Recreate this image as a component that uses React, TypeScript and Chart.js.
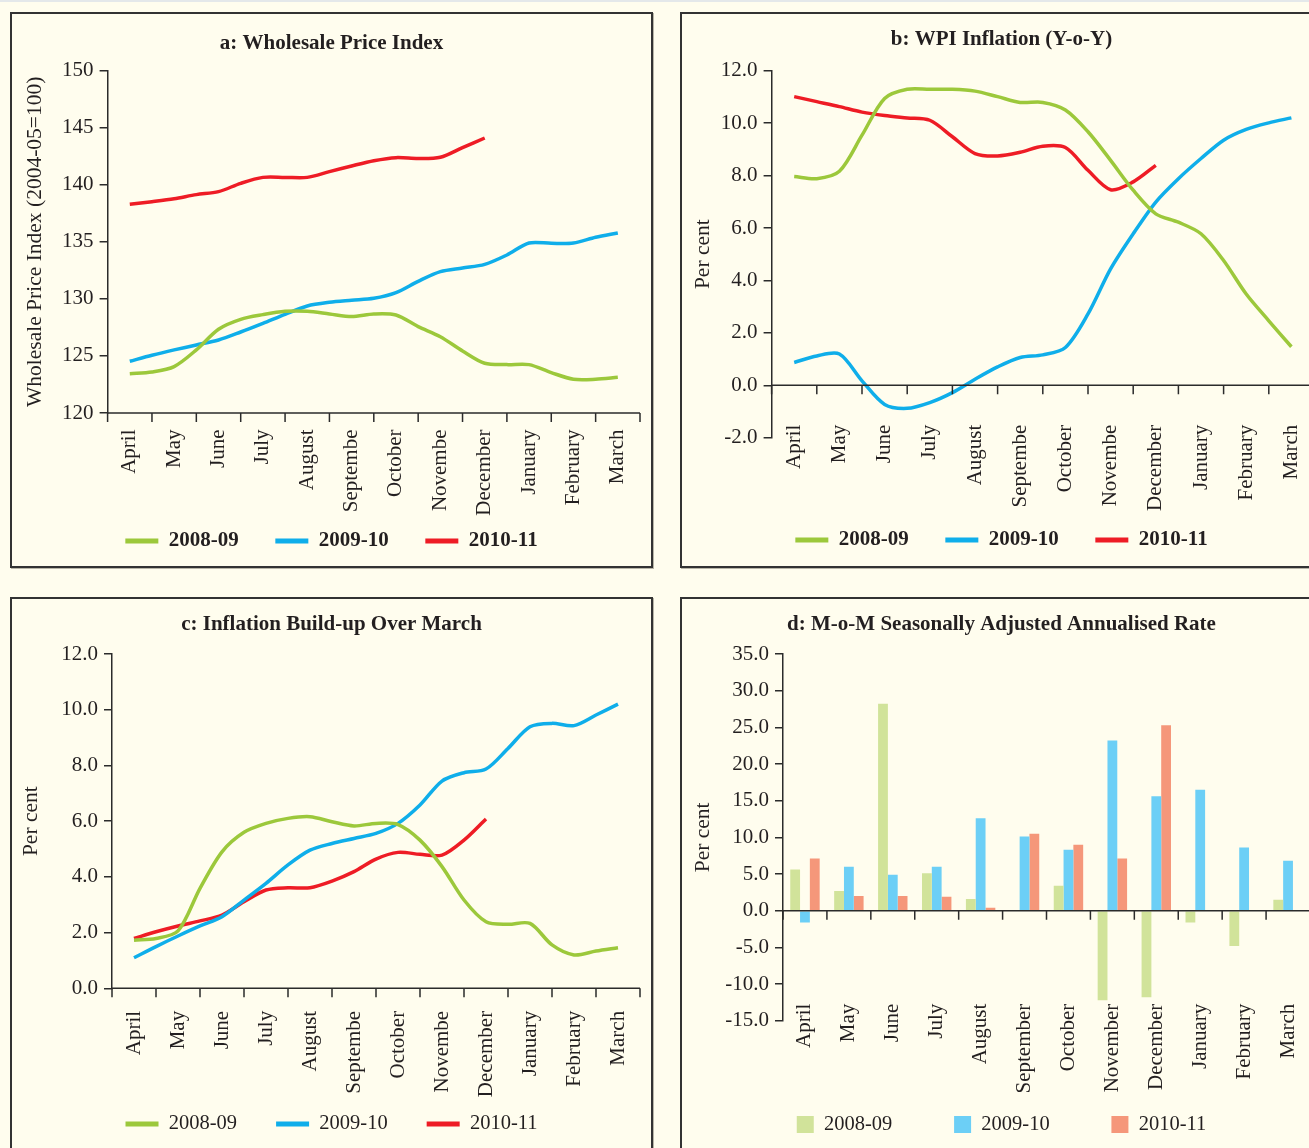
import React, { useEffect, useRef } from 'react';
import { Chart, registerables } from 'chart.js';

Chart.register(...registerables);

const FONT = "'Liberation Serif', 'Times New Roman', serif";
const TEXT = '#231f20';
const AXIS = '#2b2b2b';
const BG = '#fffdee';

// ---------- data ----------
const monthsShort = ['April', 'May', 'June', 'July', 'August', 'Septembe', 'October', 'Novembe', 'December', 'January', 'February', 'March'];
const monthsFull = ['April', 'May', 'June', 'July', 'August', 'September', 'October', 'November', 'December', 'January', 'February', 'March'];
const seriesNames = ['2008-09', '2009-10', '2010-11'];

// half-monthly readings, starting at the middle of April (step = 0.5 month)
const wpi0809 = [123.45, 123.6, 124.07, 125.53, 127.34, 128.21, 128.62, 128.91, 128.91, 128.68, 128.45, 128.68, 128.59, 127.57, 126.69, 125.44, 124.36, 124.24, 124.24, 123.54, 122.96, 122.96, 123.13];
const wpi0910 = [124.53, 125.06, 125.53, 125.96, 126.4, 127.1, 127.86, 128.65, 129.38, 129.7, 129.88, 130.05, 130.55, 131.54, 132.39, 132.71, 133.03, 133.85, 134.9, 134.87, 134.9, 135.4, 135.78];
const wpi1011 = [138.29, 138.52, 138.78, 139.14, 139.4, 140.13, 140.65, 140.65, 140.65, 141.15, 141.65, 142.11, 142.38, 142.3, 142.41, 143.25, 144.1];

const inf0809 = [7.96, 7.88, 8.16, 9.54, 10.94, 11.29, 11.29, 11.29, 11.22, 11.01, 10.79, 10.79, 10.5, 9.67, 8.58, 7.44, 6.54, 6.22, 5.78, 4.76, 3.48, 2.46, 1.47];
const inf0910 = [0.87, 1.12, 1.19, 0.17, -0.73, -0.88, -0.66, -0.28, 0.23, 0.7, 1.06, 1.16, 1.44, 2.72, 4.44, 5.78, 6.99, 7.88, 8.65, 9.35, 9.76, 10.01, 10.2];
const inf1011 = [11.01, 10.82, 10.63, 10.42, 10.29, 10.2, 10.11, 9.48, 8.84, 8.75, 8.89, 9.12, 9.07, 8.2, 7.46, 7.76, 8.39];

const bu0809 = [1.73, 1.79, 2.06, 3.59, 4.9, 5.6, 5.92, 6.1, 6.16, 5.98, 5.83, 5.92, 5.88, 5.32, 4.37, 3.17, 2.39, 2.3, 2.33, 1.56, 1.2, 1.34, 1.46];
const bu0910 = [1.1, 1.5, 1.88, 2.24, 2.57, 3.17, 3.77, 4.43, 4.96, 5.2, 5.38, 5.56, 5.92, 6.58, 7.44, 7.74, 7.87, 8.61, 9.39, 9.51, 9.43, 9.81, 10.2];
const bu1011 = [1.79, 2.03, 2.24, 2.42, 2.63, 3.11, 3.53, 3.61, 3.61, 3.85, 4.19, 4.64, 4.88, 4.81, 4.78, 5.32, 6.08];

// monthly values
const mom0809 = [5.6, 2.7, 28.2, 5.1, 1.6, null, 3.4, -12.2, -11.8, -1.6, -4.8, 1.5];
const mom0910 = [-1.6, 6.0, 4.9, 6.0, 12.6, 10.1, 8.3, 23.2, 15.6, 16.5, 8.6, 6.8];
const mom1011 = [7.1, 2.0, 2.0, 1.9, 0.4, 10.5, 9.0, 7.1, 25.3, null, null, null];

// ---------- styles ----------
const lineColors = ['#9cc83b', '#0faeea', '#ee1c25'];
const barColors = ['#d1e39a', '#6ccff6', '#f5977a'];

const CW = 639;
const CH = 552;

const baseAxisPlugin = {
  id: 'baseAxis',
  afterDatasetsDraw(chart: any, _args: any, opts: any) {
    const { ctx, chartArea } = chart;
    const y = chart.scales.y.getPixelForValue(opts.value);
    ctx.save();
    ctx.strokeStyle = AXIS;
    ctx.lineWidth = 1.5;
    ctx.beginPath();
    ctx.moveTo(chartArea.left, y);
    ctx.lineTo(chartArea.right, y);
    const n = opts.bands;
    for (let i = 0; i <= n; i++) {
      const x = chartArea.left + ((chartArea.right - chartArea.left) * i) / n;
      ctx.moveTo(x, y);
      ctx.lineTo(x, y + opts.tick);
    }
    ctx.stroke();
    ctx.restore();
  },
};

type Layout = {
  title: string;
  titlePadTop: number;
  titlePadBottom: number;
  yTitle: string;
  yTitlePad: number;
  yWidth: number;
  rightWidth: number;
  yMin: number;
  yMax: number;
  yStep: number;
  decimals: number;
  xHeight: number;
  labelAt: number;
  labelPad: number;
  padBottom: number;
  legendPad: number;
  legendBold: boolean;
  legendSize: number;
  baseline: number;
};

const TICK_SIZE = 21;

function spacerAxis(height: number) {
  return {
    type: 'linear',
    position: 'bottom',
    display: true,
    grid: { display: false, drawTicks: false },
    border: { display: false },
    ticks: { display: false },
    afterFit: (s: any) => {
      s.height = height;
    },
  };
}

function commonOptions(L: Layout, labels: string[], legendBox: { w: number; h: number }) {
  const tickFont = { family: FONT, size: TICK_SIZE };
  return {
    responsive: false,
    animation: false,
    events: [],
    layout: { padding: { left: 0, right: 0, top: 0, bottom: L.padBottom } },
    plugins: {
      title: {
        display: true,
        text: L.title,
        color: TEXT,
        font: { family: FONT, size: 21, weight: 'bold' },
        padding: { top: L.titlePadTop, bottom: L.titlePadBottom },
      },
      legend: {
        position: 'bottom',
        labels: {
          boxWidth: legendBox.w,
          boxHeight: legendBox.h,
          padding: L.legendPad,
          color: TEXT,
          font: { family: FONT, size: L.legendSize, weight: L.legendBold ? 'bold' : 'normal' },
          generateLabels: (chart: any) =>
            chart.data.datasets.map((ds: any, i: number) => ({
              text: ds.label,
              fillStyle: ds.legendColor,
              strokeStyle: ds.legendColor,
              lineWidth: 0,
              hidden: false,
              datasetIndex: i,
              fontColor: TEXT,
            })),
        },
      },
      tooltip: { enabled: false },
      baseAxis: { value: L.baseline, bands: 12, tick: 9 },
    },
    scales: {
      xc: {
        type: 'category',
        axis: 'x',
        labels,
        offset: true,
        position: { y: L.labelAt },
        grid: { display: false, drawTicks: false, offset: true },
        border: { display: false },
        ticks: { autoSkip: false, maxRotation: 90, minRotation: 90, padding: L.labelPad, color: TEXT, font: tickFont },
      },
      y: {
        type: 'linear',
        position: 'left',
        min: L.yMin,
        max: L.yMax,
        ticks: {
          stepSize: L.yStep,
          padding: 6,
          color: TEXT,
          font: tickFont,
          callback: (v: any) => Number(v).toFixed(L.decimals),
        },
        grid: { drawOnChartArea: false, drawTicks: true, tickLength: 8, color: AXIS, lineWidth: 1.5 },
        border: { display: true, color: AXIS, width: 1.5 },
        title: {
          display: true,
          text: L.yTitle,
          color: TEXT,
          font: { family: FONT, size: 21.5 },
          padding: { top: L.yTitlePad, bottom: 0 },
        },
        afterFit: (s: any) => {
          s.width = L.yWidth;
        },
      },
      yr: {
        type: 'linear',
        position: 'right',
        grid: { display: false, drawTicks: false },
        border: { display: false },
        ticks: { display: false },
        afterFit: (s: any) => {
          s.width = L.rightWidth;
        },
      },
    },
  };
}

function lineConfig(L: Layout, labels: string[], series: number[][]) {
  const opts: any = commonOptions(L, labels, { w: 33, h: 5 });
  opts.scales.x = { ...spacerAxis(L.xHeight), min: -0.5, max: 11.5, bounds: 'data' };
  return {
    type: 'line',
    data: {
      datasets: series.map((vals, i) => ({
        label: seriesNames[i],
        data: vals.map((v, k) => ({ x: k * 0.5, y: v })),
        borderColor: lineColors[i],
        backgroundColor: lineColors[i],
        legendColor: lineColors[i],
        borderWidth: 3.5,
        pointRadius: 0,
        tension: 0.3,
        xAxisID: 'x',
        yAxisID: 'y',
      })),
    },
    options: opts,
    plugins: [baseAxisPlugin],
  };
}

function barConfig(L: Layout, labels: string[], series: (number | null)[][]) {
  const opts: any = commonOptions(L, labels, { w: 17, h: 17 });
  opts.scales.xs = spacerAxis(L.xHeight);
  return {
    type: 'bar',
    data: {
      labels,
      datasets: series.map((vals, i) => ({
        label: seriesNames[i],
        data: vals,
        backgroundColor: barColors[i],
        legendColor: barColors[i],
        borderWidth: 0,
        categoryPercentage: 0.67,
        barPercentage: 1.0,
        xAxisID: 'xc',
        yAxisID: 'y',
      })),
    },
    options: opts,
    plugins: [baseAxisPlugin],
  };
}

const layoutA: Layout = {
  title: 'a: Wholesale Price Index', titlePadTop: 17.4, titlePadBottom: 14.1,
  yTitle: 'Wholesale Price Index (2004-05=100)', yTitlePad: 10.1, yWidth: 95.6, rightWidth: 11,
  yMin: 120, yMax: 150, yStep: 5, decimals: 0,
  xHeight: 81, labelAt: 117.68, labelPad: -10, padBottom: 4.5, legendPad: 36.5, legendBold: true, legendSize: 21, baseline: 120,
};
const layoutB: Layout = {
  title: 'b: WPI Inflation (Y-o-Y)', titlePadTop: 12.9, titlePadBottom: 18.6,
  yTitle: 'Per cent', yTitlePad: 8.6, yWidth: 89.6, rightWidth: 7,
  yMin: -2, yMax: 12, yStep: 2, decimals: 1,
  xHeight: 55.3, labelAt: -2, labelPad: -13, padBottom: 5.5, legendPad: 36.5, legendBold: true, legendSize: 21, baseline: 0,
};
const layoutC: Layout = {
  title: 'c: Inflation Build-up Over March', titlePadTop: 13.4, titlePadBottom: 16.4,
  yTitle: 'Per cent', yTitlePad: 6.6, yWidth: 100, rightWidth: 11,
  yMin: 0, yMax: 12, yStep: 2, decimals: 1,
  xHeight: 86.4, labelAt: -1.167, labelPad: -10, padBottom: 6.75, legendPad: 39, legendBold: false, legendSize: 20.5, baseline: 0,
};
const layoutD: Layout = {
  title: 'd: M-o-M Seasonally Adjusted Annualised Rate', titlePadTop: 13.4, titlePadBottom: 16.4,
  yTitle: 'Per cent', yTitlePad: 8.6, yWidth: 101, rightWidth: 11,
  yMin: -15, yMax: 35, yStep: 5, decimals: 1,
  xHeight: 31.8, labelAt: -15, labelPad: -17, padBottom: 6.25, legendPad: 61.75, legendBold: false, legendSize: 20.5, baseline: 0,
};

function Panel({ left, top, make }: { left: number; top: number; make: () => any }) {
  const ref = useRef<HTMLCanvasElement>(null);
  useEffect(() => {
    const chart = new Chart(ref.current as HTMLCanvasElement, make());
    return () => chart.destroy();
  }, []);
  return (
    <div
      style={{
        position: 'absolute',
        left,
        top,
        width: CW + 4,
        height: CH + 4,
        border: '2px solid #333',
        boxSizing: 'border-box',
        background: BG,
        boxShadow: '1px 1px 0 #b9b6a8',
      }}
    >
      <canvas ref={ref} width={CW} height={CH} style={{ display: 'block', width: CW, height: CH }} />
    </div>
  );
}

export default function App() {
  return (
    <div
      style={{
        position: 'fixed',
        left: 0,
        top: 0,
        width: 1309,
        height: 1148,
        overflow: 'hidden',
        background: BG,
      }}
    >
      <div style={{ position: 'absolute', left: 0, top: 0, width: 1309, height: 2, background: '#e4e8ea' }} />
      <Panel left={10} top={12} make={() => lineConfig(layoutA, monthsShort, [wpi0809, wpi0910, wpi1011])} />
      <Panel left={680} top={12} make={() => lineConfig(layoutB, monthsShort, [inf0809, inf0910, inf1011])} />
      <Panel left={10} top={597} make={() => lineConfig(layoutC, monthsShort, [bu0809, bu0910, bu1011])} />
      <Panel left={680} top={597} make={() => barConfig(layoutD, monthsFull, [mom0809, mom0910, mom1011])} />
    </div>
  );
}
